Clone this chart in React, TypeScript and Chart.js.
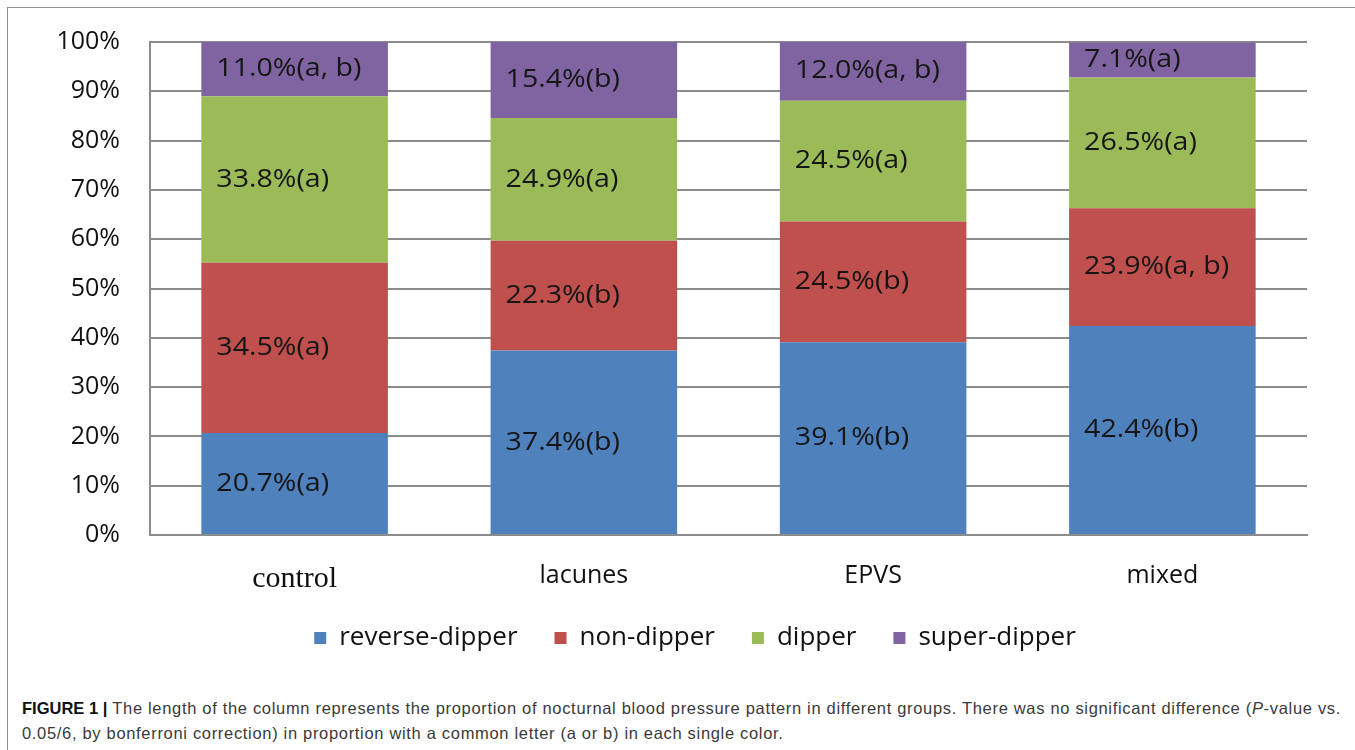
import React, { useEffect, useRef } from 'react';
import { Chart, registerables } from 'chart.js';

Chart.register(...registerables);

const categories = ['control', 'lacunes', 'EPVS', 'mixed'];
const seriesNames = ['reverse-dipper', 'non-dipper', 'dipper', 'super-dipper'];
const reverseDipper = [20.7, 37.4, 39.1, 42.4];
const nonDipper = [34.5, 22.3, 24.5, 23.9];
const dipper = [33.8, 24.9, 24.5, 26.5];
const superDipper = [11.0, 15.4, 12.0, 7.1];
const reverseLetters = ['a', 'b', 'b', 'b'];
const nonLetters = ['a', 'b', 'b', 'a, b'];
const dipperLetters = ['a', 'a', 'a', 'a'];
const superLetters = ['a, b', 'b', 'a, b', 'a'];
const seriesColors = ['#4F81BD', '#C0504D', '#9BBB59', '#8064A2'];
const yTickSuffix = '%';

const W = 1355;
const H = 690;
const SANS = '"Open Sans", "Noto Sans", sans-serif';

const labelPlugin = {
  id: 'segLabels',
  afterLayout(chart: any) {
    const lg = chart.legend;
    if (lg) {
      lg.left = 83;
    }
  },
  afterDatasetsDraw(chart: any) {
    const ctx = chart.ctx;
    const letters = [reverseLetters, nonLetters, dipperLetters, superLetters];
    chart.data.datasets.forEach((ds: any, di: number) => {
      const meta = chart.getDatasetMeta(di);
      meta.data.forEach((bar: any, i: number) => {
        const p = bar.getProps(['x', 'y', 'base', 'width'], true);
        const text = ds.data[i].toFixed(1) + '%(' + letters[di][i] + ')';
        const yc = (p.y + p.base) / 2;
        const xl = p.x - p.width / 2 + 15;
        ctx.save();
        ctx.translate(xl, yc);
        ctx.scale(1.12, 1);
        ctx.font = '25.5px ' + SANS;
        ctx.fillStyle = '#151515';
        ctx.textAlign = 'left';
        ctx.textBaseline = 'middle';
        ctx.fillText(text, 0, 0);
        ctx.restore();
      });
    });
  },
};

export default function App() {
  const ref = useRef<HTMLCanvasElement>(null);
  useEffect(() => {
    if (!ref.current) return;
    const values = [reverseDipper, nonDipper, dipper, superDipper];
    const chart = new Chart(ref.current, {
      type: 'bar',
      data: {
        labels: categories,
        datasets: seriesNames.map((name, i) => ({
          label: name,
          data: values[i],
          backgroundColor: seriesColors[i],
          borderWidth: 0,
          categoryPercentage: 1,
          barPercentage: 0.645,
        })),
      },
      options: {
        responsive: false,
        animation: false,
        events: [],
        layout: { padding: { left: 0, right: 48, top: 42, bottom: 29 } },
        scales: {
          x: {
            stacked: true,
            grid: { display: false, drawTicks: false },
            border: { display: true, color: '#8c8c8c', width: 2 },
            ticks: {
              padding: 26,
              color: '#111',
              font: (c: any) =>
                c.index === 0
                  ? { family: '"Liberation Serif", "Times New Roman", serif', size: 30 }
                  : { family: SANS, size: 25 },
            },
            afterFit: (s: any) => {
              s.height = 53;
            },
          },
          y: {
            stacked: true,
            min: 0,
            max: 100,
            grid: { color: '#8c8c8c', lineWidth: 2, drawTicks: false },
            border: { display: true, color: '#8c8c8c', width: 2 },
            ticks: {
              stepSize: 10,
              padding: 30,
              color: '#111',
              font: { family: SANS, size: 25 },
              callback: (v: any) => v + yTickSuffix,
            },
            afterFit: (s: any) => {
              s.width = 150;
              s.paddingTop = 0;
              s.paddingBottom = 0;
            },
          },
        },
        plugins: {
          legend: {
            position: 'bottom',
            labels: {
              boxWidth: 12,
              boxHeight: 12,
              padding: 37,
              color: '#111',
              font: { family: SANS, size: 26 },
            },
          },
          tooltip: { enabled: false },
        },
      },
      plugins: [labelPlugin],
    });
    return () => chart.destroy();
  }, []);

  return (
    <div
      style={{
        position: 'fixed',
        left: 0,
        top: 0,
        width: W,
        height: 750,
        overflow: 'hidden',
        background: '#fff',
      }}
    >
      <div
        style={{
          position: 'absolute',
          left: 7,
          top: 7,
          width: 1400,
          height: 800,
          borderLeft: '1.5px solid #8f8f8f',
          borderTop: '1.5px solid #8f8f8f',
        }}
      />
      <canvas ref={ref} width={W} height={H} style={{ position: 'absolute', left: 0, top: 0 }} />
      <div
        style={{
          position: 'absolute',
          left: 22,
          top: 696,
          fontFamily: '"Liberation Sans", Arial, sans-serif',
          fontSize: 16.5,
          lineHeight: '25px',
          color: '#3a3a3a',
          whiteSpace: 'nowrap',
        }}
      >
        <b style={{ color: '#111' }}>FIGURE 1 |</b>
        <span style={{ letterSpacing: '0.68px' }}>
          {' '}The length of the column represents the proportion of nocturnal blood pressure pattern in different
          groups. There was no significant difference (<i>P</i>-value vs.
          <br />
          0.05/6, by bonferroni correction) in proportion with a common letter (a or b) in each single color.
        </span>
      </div>
    </div>
  );
}
